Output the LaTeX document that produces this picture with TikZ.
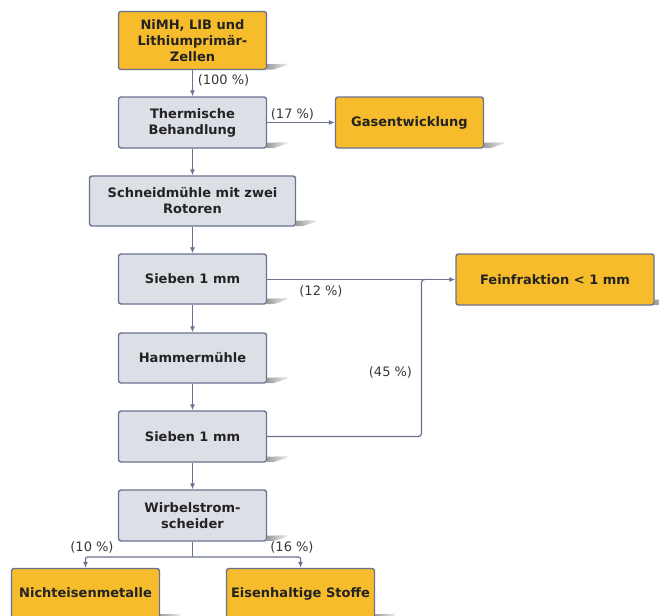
\documentclass[tikz,border=0pt]{standalone}
\usepackage{fontspec}
\setmainfont{DejaVu Sans}
\usetikzlibrary{arrows.meta,calc}

\definecolor{boxorange}{HTML}{F6BC2B}
\definecolor{boxgray}{HTML}{DCDFE5}
\definecolor{edgeblue}{HTML}{6B7290}
\definecolor{textdark}{HTML}{232323}

\tikzset{
  flowbox/.style={draw=edgeblue, line width=1.4pt, rounded corners=2.5pt,
    inner sep=0pt, align=center, font=\fontsize{13}{16}\selectfont\bfseries,
    text=textdark, minimum height=51pt},
  sourcebox/.style={flowbox, fill=boxorange},
  stepbox/.style={flowbox, fill=boxgray},
  conn/.style={draw=edgeblue, line width=1.2pt,
    -{Latex[length=6pt,width=5pt]}},
  plain/.style={draw=edgeblue, line width=1.2pt},
  pct/.style={font=\fontsize{13}{15}\selectfont, text=textdark!90, inner sep=0pt},
}

% small slanted drop shadow at the lower right corner of a box
\newcommand{\cornershadow}[1]{%
  \shade[left color=black!38, right color=black!8]
    ([yshift=6pt]#1.south east) -- ([xshift=20pt,yshift=6.5pt]#1.south east)
    -- ([xshift=20pt,yshift=5pt]#1.south east) -- ([xshift=6pt,yshift=0.5pt]#1.south east)
    -- ([yshift=0.5pt]#1.south east) -- cycle;}

\begin{document}
\begin{tikzpicture}[x=1pt,y=-1pt]
\useasboundingbox (0,0) rectangle (659,616);
\begin{scope}
\clip (0,0) rectangle (659,616);

% boxes
\node[sourcebox, minimum width=148pt, minimum height=58pt] (src) at (192.5,40.5)
  {NiMH, LIB und\\Lithiumprimär-\\Zellen};
\node[stepbox, minimum width=148pt] (therm) at (192.5,122.5) {Thermische\\Behandlung};
\node[sourcebox, minimum width=148pt] (gas) at (409.5,122.5) {Gasentwicklung};
\node[stepbox, minimum width=206pt, minimum height=50pt] (schneid) at (192.5,201)
  {Schneidmühle mit zwei\\Rotoren};
\node[stepbox, minimum width=148pt, minimum height=50pt] (sieb1) at (192.5,279) {Sieben 1 mm};
\node[sourcebox, minimum width=198pt] (fein) at (555,279.5) {Feinfraktion < 1 mm};
\node[stepbox, minimum width=148pt, minimum height=50pt] (hammer) at (192.5,358) {Hammermühle};
\node[stepbox, minimum width=148pt] (sieb2) at (192.5,436.5) {Sieben 1 mm};
\node[stepbox, minimum width=148pt] (wirbel) at (192.5,515.5) {Wirbelstrom-\\scheider};
\node[sourcebox, minimum width=148pt] (ne) at (85.5,594) {\raisebox{2pt}{Nichteisenmetalle}};
\node[sourcebox, minimum width=148pt] (fe) at (300.5,594) {\raisebox{2pt}{Eisenhaltige Stoffe}};

% shadows
\foreach \b in {src,therm,gas,schneid,sieb1,fein,hammer,sieb2,wirbel,ne,fe}{\cornershadow{\b}}

% junction points
\coordinate (merge) at (421.5,279.5);
\coordinate (split) at (192.5,557);

% connectors
\draw[conn] (src) -- (therm);
\draw[conn] (therm) -- (gas);
\draw[conn] (therm) -- (schneid);
\draw[conn] (schneid) -- (sieb1);
\draw[conn] (sieb1.east |- fein.west) -- (fein.west);
\draw[conn] (sieb1) -- (hammer);
\draw[conn] (hammer) -- (sieb2);
\draw[plain, rounded corners=3pt] (sieb2.east) -| (merge) -- ([xshift=4pt]merge);
\draw[conn] (sieb2) -- (wirbel);
\draw[plain] (wirbel.south) -- (split);
\draw[conn, rounded corners=2pt] (split) -| (ne.north);
\draw[conn, rounded corners=2pt] (split) -| (fe.north);

% fractions
\node[pct] (p100) at (223.5,80) {(100 \%)};
\node[pct] (p17) at (292.5,114) {(17 \%)};
\node[pct] (p12) at (321,291) {(12 \%)};
\node[pct] (p45) at (390.5,372) {(45 \%)};
\node[pct] (p10) at (92,547) {(10 \%)};
\node[pct] (p16) at (292,547) {(16 \%)};
\end{scope}
\end{tikzpicture}
\end{document}
